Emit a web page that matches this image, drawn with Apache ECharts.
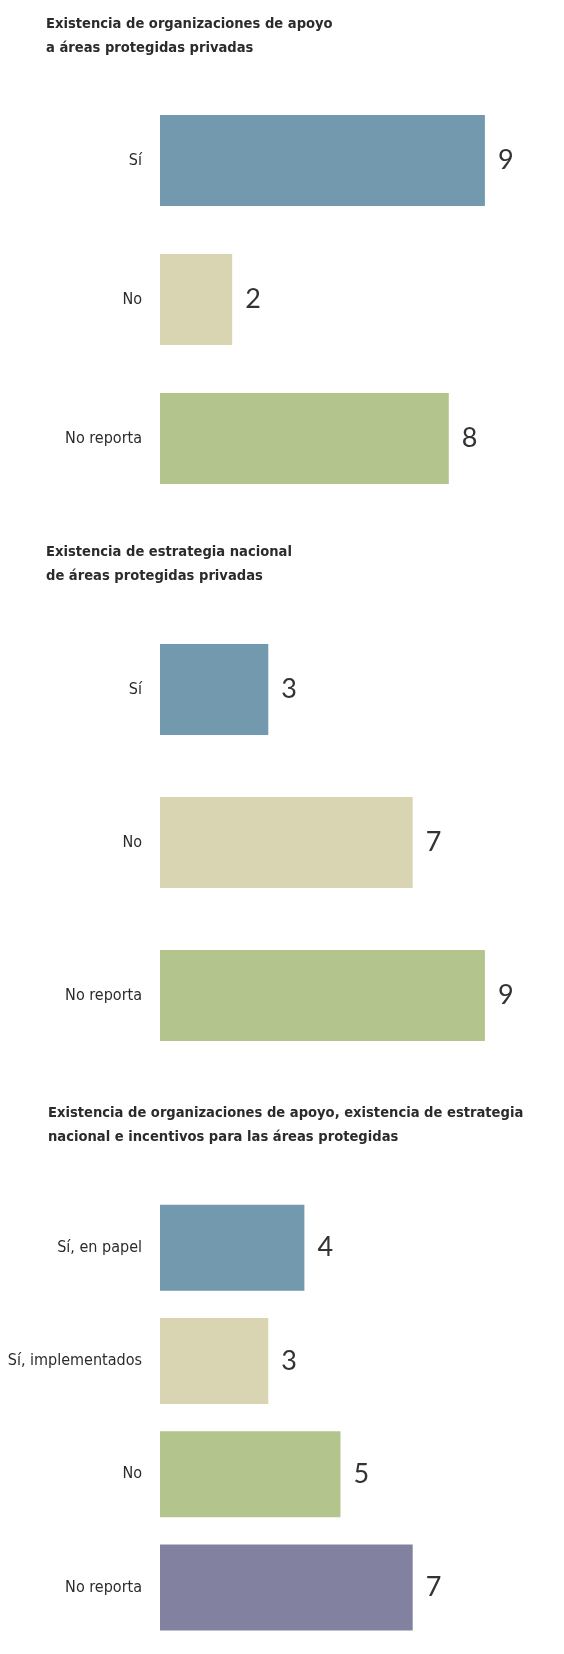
<!DOCTYPE html>
<html>
<head>
<meta charset="utf-8">
<script src="https://cdn.jsdelivr.net/npm/echarts@6/dist/echarts.min.js"></script>
<style>
  html, body { margin: 0; padding: 0; background: #ffffff; }
  #chart { width: 564px; height: 1654px; }
</style>
</head>
<body>
<div id="chart"></div>
<script>
// Panel 1: support organisations for private protected areas
const cats1 = ['Sí', 'No', 'No reporta'];
const vals1 = [9, 2, 8];
const title1 = 'Existencia de organizaciones de apoyo\na áreas protegidas privadas';

// Panel 2: national strategy
const cats2 = ['Sí', 'No', 'No reporta'];
const vals2 = [3, 7, 9];
const title2 = 'Existencia de estrategia nacional\nde áreas protegidas privadas';

// Panel 3: organisations, strategy and incentives
const cats3 = ['Sí, en papel', 'Sí, implementados', 'No', 'No reporta'];
const vals3 = [4, 3, 5, 7];
const title3 = 'Existencia de organizaciones de apoyo, existencia de estrategia\nnacional e incentivos para las áreas protegidas';

const palette = ['#7399ae', '#d9d5b3', '#b3c58d', '#8282a0'];

const narrow = '"DejaVu Sans Condensed", "Liberation Sans Narrow", sans-serif';
const numFont = 'Lato, "Liberation Sans", sans-serif';

const panels = [
  { cats: cats1, vals: vals1, title: title1, titleLeft: 46, titleTop: 12, top: 91, height: 417, barWidth: 91 },
  { cats: cats2, vals: vals2, title: title2, titleLeft: 46, titleTop: 540, top: 613, height: 459, barWidth: 91 },
  { cats: cats3, vals: vals3, title: title3, titleLeft: 48, titleTop: 1101, top: 1191, height: 453, barWidth: 86 }
];

const option = {
  backgroundColor: '#ffffff',
  animation: false,
  title: panels.map(p => ({
    text: p.title,
    left: p.titleLeft,
    top: p.titleTop,
    padding: 0,
    textStyle: {
      fontFamily: narrow,
      fontWeight: 'bold',
      fontSize: 14.6,
      lineHeight: 24,
      color: '#2b2b2b'
    }
  })),
  grid: panels.map(p => ({
    left: 160, width: 361, top: p.top, height: p.height,
    containLabel: false, outerBoundsMode: 'none'
  })),
  xAxis: panels.map((p, i) => ({
    type: 'value',
    gridIndex: i,
    min: 0,
    max: 10,
    show: false
  })),
  yAxis: panels.map((p, i) => ({
    type: 'category',
    gridIndex: i,
    data: p.cats,
    inverse: true,
    axisLine: { show: false },
    axisTick: { show: false },
    splitLine: { show: false },
    axisLabel: {
      margin: 18,
      fontFamily: narrow,
      fontSize: 16,
      color: '#2b2b2b'
    }
  })),
  series: panels.map((p, i) => ({
    type: 'bar',
    xAxisIndex: i,
    yAxisIndex: i,
    barWidth: p.barWidth,
    data: p.vals.map((v, j) => ({ value: v, itemStyle: { color: palette[j] } })),
    label: {
      show: true,
      position: 'right',
      distance: 13,
      fontFamily: numFont,
      fontWeight: 'normal',
      fontSize: 27,
      color: '#333333'
    }
  }))
};

const chart = echarts.init(document.getElementById('chart'), null, { renderer: 'canvas' });
chart.setOption(option);
</script>
</body>
</html>
